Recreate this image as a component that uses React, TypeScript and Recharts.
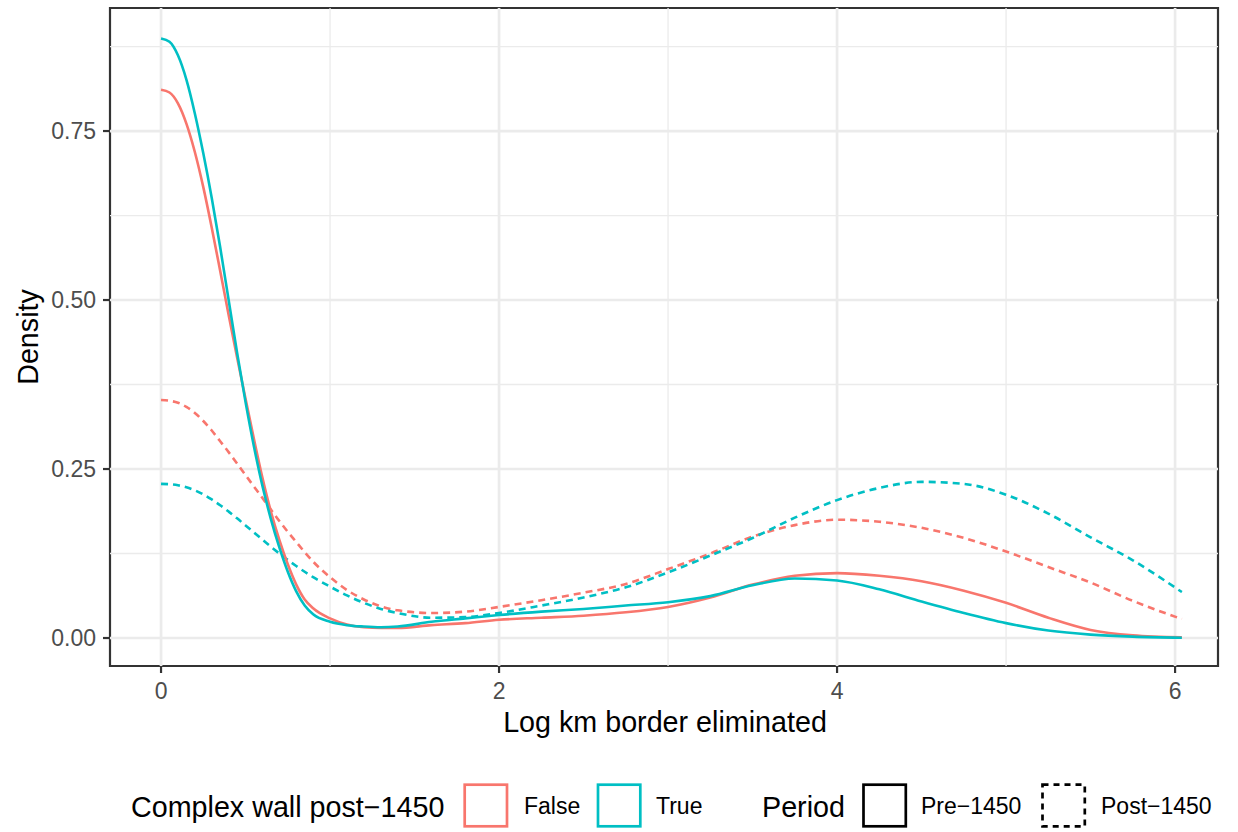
import * as React from 'react';
import { LineChart, Line, XAxis, YAxis, ReferenceLine, ReferenceArea } from 'recharts';

// x values (log km border eliminated)
const XS = [
  0, 0.05, 0.1, 0.15, 0.2, 0.25, 0.3, 0.35, 0.4, 0.45, 0.5, 0.55, 0.6, 0.65, 0.7, 0.75, 0.8, 0.85, 0.9,
  1.0, 1.1, 1.2, 1.3, 1.4,
  1.6, 1.8, 2.0,
  2.25, 2.5, 2.75, 3.0, 3.25, 3.5, 3.75, 4.0, 4.25, 4.5, 4.75, 5.0, 5.25, 5.5, 5.75,
  6.04,
];

// density, complex wall = False, period Pre-1450
const FALSE_PRE = [
  0.811, 0.807, 0.791, 0.761, 0.719, 0.667, 0.607, 0.543, 0.478, 0.415, 0.354, 0.294, 0.237, 0.187, 0.145, 0.109, 0.079, 0.057, 0.044,
  0.029, 0.02, 0.016, 0.015, 0.015,
  0.019, 0.022, 0.027,
  0.03, 0.033, 0.038, 0.046, 0.06, 0.079, 0.092, 0.096, 0.092, 0.084, 0.07, 0.052, 0.03, 0.012, 0.004,
  0.001,
];

// density, complex wall = True, period Pre-1450
const TRUE_PRE = [
  0.887, 0.882, 0.862, 0.826, 0.776, 0.717, 0.651, 0.578, 0.5, 0.422, 0.349, 0.283, 0.225, 0.176, 0.134, 0.098, 0.069, 0.048, 0.035,
  0.024, 0.019, 0.017, 0.016, 0.017,
  0.024, 0.029, 0.034,
  0.039, 0.043, 0.048, 0.053, 0.062, 0.078, 0.088, 0.085, 0.072, 0.054, 0.037, 0.022, 0.011, 0.005, 0.002,
  0.0005,
];

// density, complex wall = False, period Post-1450
const FALSE_POST = [
  0.352, 0.351, 0.348, 0.342, 0.333, 0.321, 0.307, 0.291, 0.275, 0.258, 0.241, 0.224, 0.207, 0.19, 0.173, 0.157, 0.142, 0.127, 0.113,
  0.09, 0.071, 0.057, 0.047, 0.041,
  0.037, 0.039, 0.046,
  0.056, 0.067, 0.08, 0.102, 0.125, 0.15, 0.167, 0.175, 0.172, 0.163, 0.148, 0.128, 0.105, 0.082, 0.055,
  0.028,
];

// density, complex wall = True, period Post-1450
const TRUE_POST = [
  0.228, 0.2275, 0.226, 0.223, 0.2185, 0.2125, 0.205, 0.1965, 0.187, 0.177, 0.1665, 0.156, 0.1455, 0.135, 0.125, 0.1155, 0.1065, 0.098, 0.09,
  0.076, 0.063, 0.052, 0.043, 0.037,
  0.03, 0.031, 0.037,
  0.048, 0.06, 0.075, 0.097, 0.122, 0.148, 0.178, 0.204, 0.222, 0.231, 0.228, 0.212, 0.184, 0.149, 0.115,
  0.068,
];

const X_TICKS = [0, 2, 4, 6];
const X_MINOR = [1, 3, 5];
const Y_TICKS = [0, 0.25, 0.5, 0.75];
const Y_MINOR = [0.125, 0.375, 0.625, 0.875];
const X_DOMAIN: [number, number] = [-0.302, 6.254];
const Y_DOMAIN: [number, number] = [-0.0414, 0.932];

const WALL_LABELS = ['False', 'True'];
const PERIOD_LABELS = ['Pre\u22121450', 'Post\u22121450'];

const RED = '#F8766D';
const TEAL = '#00BFC4';
const DASH = '7 5';

const rows = XS.map((x, i) => ({
  x,
  falsePre: FALSE_PRE[i],
  truePre: TRUE_PRE[i],
  falsePost: FALSE_POST[i],
  truePost: TRUE_POST[i],
}));

const fmtY = (v: number) => v.toFixed(2);

const Legend = () => (
  <svg width={1238} height={832} style={{ position: 'absolute', left: 0, top: 0, pointerEvents: 'none' }}>
    {/* axis titles */}
    <text x={665} y={732} textAnchor="middle" fontSize={28.7} fill="#000">Log km border eliminated</text>
    <text x={38} y={337} textAnchor="middle" fontSize={28.7} fill="#000" transform="rotate(-90, 38, 337)">Density</text>

    {/* colour legend */}
    <text x={131} y={817} fontSize={28.7} fill="#000">Complex wall post{'\u2212'}1450</text>
    <rect x={464.7} y={784.7} width={42.3} height={41.6} fill="none" stroke={RED} strokeWidth={2.7} />
    <text x={524} y={814} fontSize={23} fill="#000">{WALL_LABELS[0]}</text>
    <rect x={598} y={784.7} width={42.3} height={41.6} fill="none" stroke={TEAL} strokeWidth={2.7} />
    <text x={656} y={814} fontSize={23} fill="#000">{WALL_LABELS[1]}</text>

    {/* linetype legend */}
    <text x={762} y={817} fontSize={28.7} fill="#000">Period</text>
    <rect x={863.5} y={784.7} width={42.3} height={41.6} fill="none" stroke="#000" strokeWidth={2.7} />
    <text x={921} y={814} fontSize={23} fill="#000">{PERIOD_LABELS[0]}</text>
    <rect x={1042.5} y={784.7} width={42.3} height={41.6} fill="none" stroke="#000" strokeWidth={2.7} strokeDasharray="6 5" />
    <text x={1101} y={814} fontSize={23} fill="#000">{PERIOD_LABELS[1]}</text>
  </svg>
);

export default function App() {
  return (
    <div style={{ position: 'absolute', left: 0, top: 0, width: 1238, height: 832, background: '#fff', fontFamily: '"Liberation Sans", Arial, sans-serif' }}>
      <LineChart width={1238} height={760} data={rows} margin={{ top: 8, right: 20, bottom: 0, left: 0 }}>
        <XAxis
          dataKey="x"
          type="number"
          domain={X_DOMAIN}
          ticks={X_TICKS}
          allowDataOverflow
          height={94}
          axisLine={false}
          tickSize={7}
          tickMargin={10}
          tickLine={{ stroke: '#333333', strokeWidth: 2.2 }}
          tick={{ fontSize: 23, fill: '#4D4D4D' }}
        />
        <YAxis
          type="number"
          domain={Y_DOMAIN}
          ticks={Y_TICKS}
          allowDataOverflow
          width={110}
          axisLine={false}
          tickSize={7}
          tickMargin={7}
          tickFormatter={fmtY}
          tickLine={{ stroke: '#333333', strokeWidth: 2.2 }}
          tick={{ fontSize: 23, fill: '#4D4D4D' }}
        />

        {/* grid */}
        {X_MINOR.map(v => <ReferenceLine key={'xm' + v} x={v} stroke="#EBEBEB" strokeWidth={1.3} />)}
        {Y_MINOR.map(v => <ReferenceLine key={'ym' + v} y={v} stroke="#EBEBEB" strokeWidth={1.3} />)}
        {X_TICKS.map(v => <ReferenceLine key={'x' + v} x={v} stroke="#EBEBEB" strokeWidth={2.7} />)}
        {Y_TICKS.map(v => <ReferenceLine key={'y' + v} y={v} stroke="#EBEBEB" strokeWidth={2.7} />)}

        <Line dataKey="falsePost" type="monotone" stroke={RED} strokeWidth={2.6} strokeDasharray={DASH} dot={false} activeDot={false} isAnimationActive={false} />
        <Line dataKey="truePost" type="monotone" stroke={TEAL} strokeWidth={2.6} strokeDasharray={DASH} dot={false} activeDot={false} isAnimationActive={false} />
        <Line dataKey="falsePre" type="monotone" stroke={RED} strokeWidth={2.6} dot={false} activeDot={false} isAnimationActive={false} />
        <Line dataKey="truePre" type="monotone" stroke={TEAL} strokeWidth={2.6} dot={false} activeDot={false} isAnimationActive={false} />

        {/* panel border */}
        <ReferenceArea x1={X_DOMAIN[0]} x2={X_DOMAIN[1]} y1={Y_DOMAIN[0]} y2={Y_DOMAIN[1]} fill="none" fillOpacity={0} stroke="#333333" strokeWidth={2.2} ifOverflow="visible" />
      </LineChart>
      <Legend />
    </div>
  );
}
